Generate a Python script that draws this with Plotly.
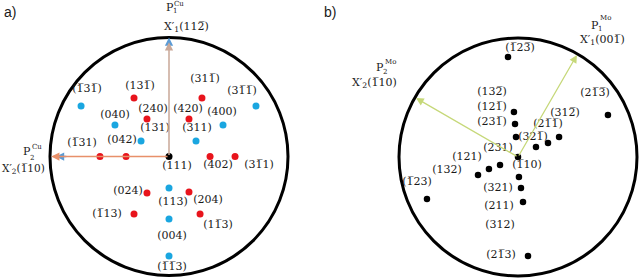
import plotly.graph_objects as go

# ---------------- data (normalised pole-figure coordinates, circle radius = 1) -------------
# Panel a: Cu poles
red_x = [-0.294, -0.185, 0.168, 0.277, 0.345, 0.555, -0.580, -0.361, -0.185, -0.294, 0.168, 0.261]
red_y = [0.492, 0.315, 0.315, 0.492, 0.0, 0.0, 0.0, 0.0, -0.307, -0.483, -0.298, -0.483]
blue_x = [-0.739, -0.454, -0.235, 0.227, 0.454, 0.731, 0.0, 0.0, 0.0]
blue_y = [0.424, 0.265, 0.130, 0.130, 0.265, 0.424, -0.265, -0.525, -0.836]
centre_a_x = [0.0]
centre_a_y = [0.0]

labels_a = ["(13-1)", "(240)", "(420)", "(31-1)", "(402)", "(3-11)", "(-131)", "(042)",
            "(024)", "(-113)", "(204)", "(1-13)", "(-13-1)", "(040)", "(131)", "(311)",
            "(400)", "(3-1-1)", "(113)", "(004)", "(-1-13)", "(111)"]
labels_a_x = [-0.244, -0.134, 0.160, 0.303, 0.412, 0.756, -0.731, -0.395,
              -0.345, -0.521, 0.328, 0.412, -0.689, -0.454, -0.118, 0.235,
              0.445, 0.613, 0.034, 0.025, 0.025, 0.067]
labels_a_y = [0.592, 0.399, 0.399, 0.651, -0.071, -0.071, 0.113, 0.139,
              -0.290, -0.483, -0.366, -0.576, 0.567, 0.349, 0.239, 0.239,
              0.374, 0.550, -0.382, -0.668, -0.929, -0.080]

# Panel b: Mo poles
black_x = [-0.084, 0.756, -0.034, -0.025, -0.017, 0.345, 0.151, 0.252, 0.0,
           0.008, 0.025, 0.042, 0.084, -0.151, -0.244, -0.336, -0.765]
black_y = [0.840, 0.353, 0.378, 0.277, 0.168, 0.168, 0.084, 0.118, 0.0,
           -0.168, -0.261, -0.378, -0.832, -0.067, -0.101, -0.151, -0.353]

labels_b = ["(-12-3)", "(2-1-3)", "(13-2)", "(12-1)", "(23-1)", "(32-1)", "(2-1-1)", "(31-2)",
            "(231)", "(-110)", "(121)", "(132)", "(-123)", "(321)", "(211)", "(312)", "(2-13)"]
labels_b_x = [0.017, 0.647, -0.218, -0.218, -0.218, 0.126, 0.252, 0.395,
              -0.168, 0.076, -0.429, -0.597, -0.849, -0.168, -0.160, -0.151, -0.143]
labels_b_y = [0.916, 0.538, 0.546, 0.420, 0.294, 0.168, 0.277, 0.370,
              0.076, -0.067, 0.0, -0.109, -0.210, -0.261, -0.412, -0.571, -0.824]

# sample axes directions (degrees from +x)
axes_a_deg = [90, 180]
axes_b_deg = [60, 150]

# -------------------------------------------------------------------------------------------
import math

W, H = 640, 278
R = 119.0
SERIF = "DejaVu Serif"
LBL = 11
TXT = "#1a1a1a"


def bar(s):
    out = ""
    i = 0
    while i < len(s):
        if s[i] == "-":
            out += s[i + 1] + "\u0305"
            i += 2
        else:
            out += s[i]
            i += 1
    return out


fig = go.Figure()

fig.add_trace(go.Scatter(x=red_x, y=red_y, mode="markers", xaxis="x", yaxis="y",
                         marker=dict(color="#e8141c", size=7), hoverinfo="skip"))
fig.add_trace(go.Scatter(x=blue_x, y=blue_y, mode="markers", xaxis="x", yaxis="y",
                         marker=dict(color="#1aa6e0", size=7), hoverinfo="skip"))
fig.add_trace(go.Scatter(x=centre_a_x, y=centre_a_y, mode="markers", xaxis="x", yaxis="y",
                         marker=dict(color="black", size=7), hoverinfo="skip"))
fig.add_trace(go.Scatter(x=black_x, y=black_y, mode="markers", xaxis="x2", yaxis="y2",
                         marker=dict(color="black", size=6.5), hoverinfo="skip"))

fig.add_trace(go.Scatter(x=labels_a_x, y=labels_a_y, mode="text", xaxis="x", yaxis="y",
                         text=[bar(t) for t in labels_a],
                         textfont=dict(family=SERIF, size=LBL, color=TXT), hoverinfo="skip"))
fig.add_trace(go.Scatter(x=labels_b_x, y=labels_b_y, mode="text", xaxis="x2", yaxis="y2",
                         text=[bar(t) for t in labels_b],
                         textfont=dict(family=SERIF, size=LBL, color=TXT), hoverinfo="skip"))

# circles
fig.add_shape(type="circle", xref="x", yref="y", x0=-1, y0=-1, x1=1, y1=1,
              line=dict(color="black", width=3), layer="below")
fig.add_shape(type="circle", xref="x2", yref="y2", x0=-1, y0=-1, x1=1, y1=1,
              line=dict(color="black", width=3), layer="below")

ann = []


def arrow(xr, yr, ang, length, color, width=1.5, size=1.0, tail=0.0):
    c, s = math.cos(math.radians(ang)), math.sin(math.radians(ang))
    ann.append(dict(x=length * c, y=length * s, ax=tail * c, ay=tail * s,
                    xref=xr, yref=yr, axref=xr, ayref=yr, text="", showarrow=True,
                    arrowhead=2, arrowsize=size, arrowwidth=width, arrowcolor=color))


# panel a arrows (orange line + blue head)
arrow("x", "y", axes_a_deg[0], 1.0, "#5b9bd5", 1.5, 1.1, 0.9)
arrow("x", "y", axes_a_deg[0], 0.96, "#c9a898", 1.5, 1.1, 0.0)
arrow("x", "y", axes_a_deg[1], 0.95, "#5b9bd5", 1.5, 1.1, 0.85)
arrow("x", "y", axes_a_deg[1], 0.99, "#e8906a", 1.5, 1.1, 0.0)
# panel b arrows
arrow("x2", "y2", axes_b_deg[0], 0.99, "#c6d879", 1.3, 1.2, 0.0)
arrow("x2", "y2", axes_b_deg[1], 0.99, "#c6d879", 1.3, 1.2, 0.0)


def txt(xr, yr, x, y, t, size=LBL, xanchor="center", family=SERIF):
    ann.append(dict(x=x, y=y, xref=xr, yref=yr, text=t, showarrow=False,
                    xanchor=xanchor, yanchor="middle",
                    font=dict(family=family, size=size, color=TXT)))


# axis labels panel a
txt("x", "y", 0.008, 1.256, "P")
txt("x", "y", 0.05, 1.223, "1", 7)
txt("x", "y", 0.085, 1.282, "Cu", 7)
txt("x", "y", 0.143, 1.088, "X\u2032<sub>1</sub>(11" + "2\u0305" + ")")
txt("x", "y", -1.193, 0.038, "P")
txt("x", "y", -1.151, -0.013, "2", 7)
txt("x", "y", -1.113, 0.076, "Cu", 7)
txt("x", "y", -1.418, -0.105, "X\u2032<sub>2</sub>(" + "1\u0305" + "10)", size=10.5, xanchor="left")
# axis labels panel b
txt("x2", "y2", 0.647, 1.109, "P")
txt("x2", "y2", 0.690, 1.076, "1", 7)
txt("x2", "y2", 0.735, 1.168, "Mo", 7)
txt("x2", "y2", 0.706, 0.983, "X\u2032<sub>1</sub>(00" + "1\u0305" + ")")
txt("x2", "y2", -1.160, 0.748, "P")
txt("x2", "y2", -1.115, 0.714, "2", 7)
txt("x2", "y2", -1.072, 0.798, "Mo", 7)
txt("x2", "y2", -1.210, 0.622, "X\u2032<sub>2</sub>(" + "1\u0305" + "10)")

# panel letters
ann.append(dict(x=2 / W, y=1 - 12 / H, xref="paper", yref="paper", text="a)", showarrow=False,
                xanchor="left", yanchor="middle",
                font=dict(family="Liberation Sans", size=14, color=TXT)))
ann.append(dict(x=322 / W, y=1 - 12 / H, xref="paper", yref="paper", text="b)", showarrow=False,
                xanchor="left", yanchor="middle",
                font=dict(family="Liberation Sans", size=14, color=TXT)))

ax_common = dict(visible=False, showgrid=False, zeroline=False, fixedrange=True)
cxa, cya = 169.0, 156.5
cxb, cyb = 518.0, 157.0
fig.update_layout(
    width=W, height=H, margin=dict(l=0, r=0, t=0, b=0),
    paper_bgcolor="white", plot_bgcolor="white", showlegend=False,
    xaxis=dict(domain=[0, 0.5], range=[-cxa / R, (320 - cxa) / R], **ax_common),
    yaxis=dict(domain=[0, 1], range=[-(H - cya) / R, cya / R], **ax_common),
    xaxis2=dict(domain=[0.5, 1], range=[-(cxb - 320) / R, (W - cxb) / R], **ax_common),
    yaxis2=dict(domain=[0, 1], range=[-(H - cyb) / R, cyb / R], anchor="x2", **ax_common),
    annotations=ann,
)

fig.write_html("out.html", config={"displayModeBar": False, "staticPlot": True},
               post_script="document.body.style.margin='0';document.body.style.overflow='hidden';")
